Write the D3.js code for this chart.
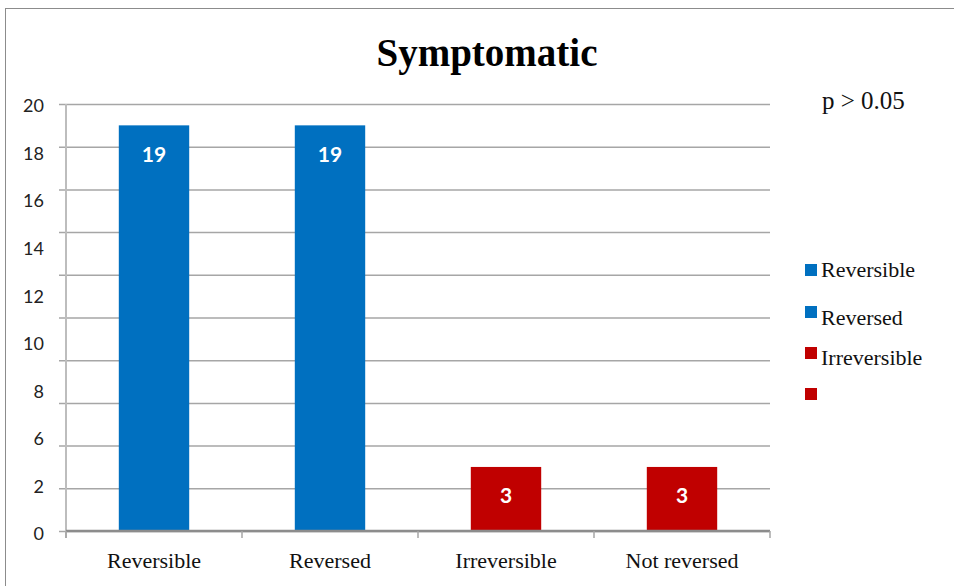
<!DOCTYPE html>
<html>
<head>
<meta charset="utf-8">
<script src="https://cdn.jsdelivr.net/npm/d3@7/dist/d3.min.js"></script>
<style>
  html, body { margin: 0; padding: 0; background: #fff; }
  svg { display: block; }
</style>
</head>
<body>
<svg id="chart" width="954" height="586"></svg>
<script>
// Chart data
const categories = ["Reversible", "Reversed", "Irreversible", "Not reversed"];
const values = [19, 19, 3, 3];
const barColors = ["#0070C0", "#0070C0", "#C00000", "#C00000"];
const yTickLabels = ["20", "18", "16", "14", "12", "10", "8", "6", "2", "0"];
const legendLabels = ["Reversible", "Reversed", "Irreversible", ""];
const legendColors = ["#0070C0", "#0070C0", "#C00000", "#C00000"];
const titleText = "Symptomatic";
const noteText = "p > 0.05";

const svg = d3.select("#chart");
const W = 954, H = 586;
const plot = { left: 66, right: 770, top: 104, bottom: 531 };
const serif = "'Liberation Serif', 'Times New Roman', serif";
const sans = "Lato, 'Open Sans', sans-serif";

// frame around the chart
svg.append("rect")
  .attr("x", 5.5).attr("y", 8.5)
  .attr("width", W).attr("height", H)
  .attr("fill", "#fff")
  .attr("stroke", "#8c8c8c").attr("stroke-width", 1);

// scales
const x = d3.scaleBand()
  .domain(categories)
  .range([plot.left, plot.right])
  .paddingInner(0.6)
  .paddingOuter(0.3);

const y = d3.scaleLinear().domain([0, 20]).range([plot.bottom, plot.top]);

// horizontal gridlines with short outside ticks
const gridAxis = d3.axisLeft(y)
  .tickValues(d3.range(0, 21, 2))
  .tickSize(-(plot.right - plot.left))
  .tickSizeOuter(0)
  .tickFormat("");
const gGrid = svg.append("g")
  .attr("transform", `translate(${plot.left},0)`)
  .call(gridAxis);
gGrid.select(".domain").remove();
gGrid.selectAll(".tick line")
  .attr("x1", -7)
  .attr("stroke", "#a6a6a6")
  .attr("stroke-width", 1.5);

// vertical value axis line
svg.append("line")
  .attr("x1", plot.left).attr("x2", plot.left)
  .attr("y1", plot.top).attr("y2", plot.bottom + 7)
  .attr("stroke", "#bdbdbd").attr("stroke-width", 2);

// value axis labels, evenly spread down the axis
const yLabelPos = d3.scalePoint().domain(yTickLabels).range([106, 534]);
svg.append("g")
  .selectAll("text")
  .data(yTickLabels)
  .join("text")
  .attr("x", 44)
  .attr("y", d => yLabelPos(d))
  .attr("dy", "0.35em")
  .attr("text-anchor", "end")
  .attr("font-family", sans)
  .attr("font-size", 18)
  .attr("fill", "#222")
  .text(d => d);

// bars
svg.append("g")
  .selectAll("rect")
  .data(values)
  .join("rect")
  .attr("x", (d, i) => x(categories[i]))
  .attr("y", d => y(d))
  .attr("width", x.bandwidth())
  .attr("height", d => y(0) - y(d))
  .attr("fill", (d, i) => barColors[i]);

// value labels inside the bars
svg.append("g")
  .selectAll("text")
  .data(values)
  .join("text")
  .attr("x", (d, i) => x(categories[i]) + x.bandwidth() / 2)
  .attr("y", d => y(d) + 29)
  .attr("dy", "0.35em")
  .attr("text-anchor", "middle")
  .attr("font-family", sans)
  .attr("font-weight", "bold")
  .attr("font-size", 21)
  .attr("fill", "#fff")
  .text(d => d);

// category axis
const xAxis = d3.axisBottom(x).tickSize(0).tickSizeOuter(0);
const gX = svg.append("g")
  .attr("transform", `translate(0,${plot.bottom})`)
  .call(xAxis);
gX.select(".domain")
  .attr("stroke", "#8c8c8c").attr("stroke-width", 2.5)
  .attr("d", `M${plot.left},0H${plot.right}`);
gX.selectAll(".tick text")
  .attr("y", 30)
  .attr("dy", "0.32em")
  .attr("font-family", serif)
  .attr("font-size", 22)
  .attr("fill", "#111");

// tick marks between categories
const boundaries = d3.range(categories.length + 1)
  .map(i => plot.left + i * x.step());
svg.append("g")
  .selectAll("line")
  .data(boundaries)
  .join("line")
  .attr("x1", d => d).attr("x2", d => d)
  .attr("y1", plot.bottom).attr("y2", plot.bottom + 7)
  .attr("stroke", "#a6a6a6").attr("stroke-width", 1.5);

// title
svg.append("text")
  .attr("x", 487).attr("y", 66)
  .attr("text-anchor", "middle")
  .attr("font-family", serif)
  .attr("font-weight", "bold")
  .attr("font-size", 39)
  .attr("fill", "#000")
  .text(titleText);

// significance note
svg.append("text")
  .attr("x", 822).attr("y", 109)
  .attr("font-family", serif)
  .attr("font-size", 25)
  .attr("fill", "#111")
  .text(noteText);

// legend
const legendRows = [264, 306, 347, 388];
const legendTextY = [277, 325, 365, 401];
const gLeg = svg.append("g");
legendLabels.forEach((label, i) => {
  gLeg.append("rect")
    .attr("x", 805).attr("y", legendRows[i])
    .attr("width", 12).attr("height", 12)
    .attr("fill", legendColors[i]);
  gLeg.append("text")
    .attr("x", 821).attr("y", legendTextY[i])
    .attr("font-family", serif)
    .attr("font-size", 22)
    .attr("fill", "#111")
    .text(label);
});
</script>
</body>
</html>
